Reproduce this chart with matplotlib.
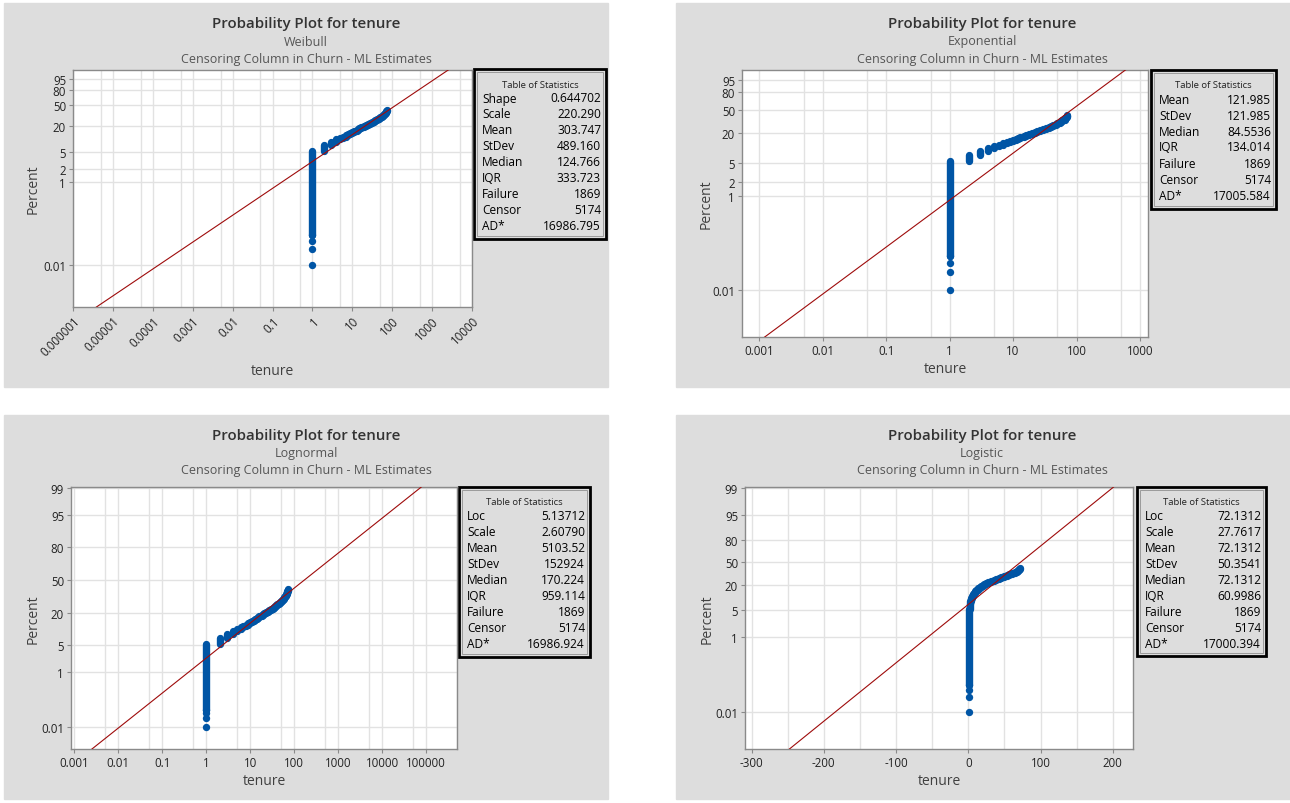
from statistics import NormalDist

import numpy as np
import matplotlib
matplotlib.use("Agg")
import matplotlib.pyplot as plt
from matplotlib.patches import Rectangle
from matplotlib.ticker import NullFormatter, NullLocator

plt.rcParams["font.family"] = ["Open Sans", "DejaVu Sans"]

W, H = 1290, 804

# ---------------------------------------------------------------------------
# Data (same plotting positions in all four panels)
# ---------------------------------------------------------------------------
tenure = list(range(1, 73))
# cumulative percent failed at the top of each tenure group
cum_pct = [5.40, 7.22, 8.63, 9.90, 10.89, 11.52, 12.33, 13.01, 13.76, 14.51,
           15.03, 15.68, 16.34, 16.76, 17.42, 17.93, 18.40, 18.85, 19.20, 19.55,
           19.89, 20.42, 20.68, 21.14, 21.62, 21.93, 22.21, 22.47, 22.79, 23.13,
           23.49, 23.95, 24.30, 24.58, 24.80, 25.04, 25.42, 25.75, 26.11, 26.42,
           26.82, 27.15, 27.54, 27.71, 27.85, 28.21, 28.60, 28.88, 29.32, 29.75,
           29.98, 30.22, 30.69, 31.13, 31.47, 31.82, 32.18, 32.65, 33.13, 33.49,
           33.87, 34.12, 34.32, 34.60, 35.13, 35.95, 36.90, 37.57, 38.24, 39.28,
           39.97, 40.96]
# separate dots at the bottom of the tenure = 1 column
first_pct = [0.01, 0.024, 0.038, 0.052]

# fitted parameters
weib_shape, weib_scale = 0.644702, 220.290
exp_mean = 121.985
logn_loc, logn_scale = 5.13712, 2.60790
logis_loc, logis_scale = 72.1312, 27.7617

weib_stats = [("Shape", "0.644702"), ("Scale", "220.290"), ("Mean", "303.747"),
              ("StDev", "489.160"), ("Median", "124.766"), ("IQR", "333.723"),
              ("Failure", "1869"), ("Censor", "5174"), ("AD*", "16986.795")]
exp_stats = [("Mean", "121.985"), ("StDev", "121.985"), ("Median", "84.5536"),
             ("IQR", "134.014"), ("Failure", "1869"), ("Censor", "5174"),
             ("AD*", "17005.584")]
logn_stats = [("Loc", "5.13712"), ("Scale", "2.60790"), ("Mean", "5103.52"),
              ("StDev", "152924"), ("Median", "170.224"), ("IQR", "959.114"),
              ("Failure", "1869"), ("Censor", "5174"), ("AD*", "16986.924")]
logis_stats = [("Loc", "72.1312"), ("Scale", "27.7617"), ("Mean", "72.1312"),
               ("StDev", "50.3541"), ("Median", "72.1312"), ("IQR", "60.9986"),
               ("Failure", "1869"), ("Censor", "5174"), ("AD*", "17000.394")]

yticks_a = [95, 80, 50, 20, 5, 2, 1, 0.01]
ylabels_a = ["95", "80", "50", "20", "5", "2", "1", "0.01"]
yticks_b = [99, 95, 80, 50, 20, 5, 1, 0.01]
ylabels_b = ["99", "95", "80", "50", "20", "5", "1", "0.01"]

weib_xticks = [1e-6, 1e-5, 1e-4, 1e-3, 1e-2, 0.1, 1, 10, 100, 1000, 10000]
weib_xlabels = ["0.000001", "0.00001", "0.0001", "0.001", "0.01", "0.1",
                "1", "10", "100", "1000", "10000"]
exp_xticks = [1e-3, 1e-2, 0.1, 1, 10, 100, 1000]
exp_xlabels = ["0.001", "0.01", "0.1", "1", "10", "100", "1000"]
logn_xticks = [1e-3, 1e-2, 0.1, 1, 10, 100, 1000, 1e4, 1e5]
logn_xlabels = ["0.001", "0.01", "0.1", "1", "10", "100", "1000", "10000", "100000"]
logis_xticks = [-300, -200, -100, 0, 100, 200]
logis_xlabels = ["-300", "-200", "-100", "0", "100", "200"]

# ---------------------------------------------------------------------------
# probability scales
# ---------------------------------------------------------------------------
_nd = NormalDist()
_ppf = np.vectorize(_nd.inv_cdf, otypes=[float])
_cdf = np.vectorize(_nd.cdf, otypes=[float])


def _frac(p):
    return np.clip(np.asarray(p, dtype=float) / 100.0, 1e-13, 1 - 1e-13)


def weib_fwd(p):
    return np.log(-np.log1p(-_frac(p)))


def weib_inv(y):
    return 100.0 * -np.expm1(-np.exp(np.asarray(y, dtype=float)))


def norm_fwd(p):
    return _ppf(_frac(p))


def norm_inv(z):
    return 100.0 * _cdf(np.asarray(z, dtype=float))


def logit_fwd(p):
    f = _frac(p)
    return np.log(f / (1 - f))


def logit_inv(y):
    return 100.0 / (1 + np.exp(-np.asarray(y, dtype=float)))


def weib_cdf(x):
    return 100.0 * -np.expm1(-(x / weib_scale) ** weib_shape)


def exp_cdf(x):
    return 100.0 * -np.expm1(-x / exp_mean)


def logn_cdf(x):
    return norm_inv((np.log(x) - logn_loc) / logn_scale)


def logis_cdf(x):
    return 100.0 / (1 + np.exp(-(x - logis_loc) / logis_scale))


BLUE = "#0055a5"
RED = "#9e0b0b"
BG = "#dddddd"
GRID = "#e2e2e2"
SPINE = "#8a8a8a"
TXT = "#222222"


def fx(x):
    return x / W


def fy(y):
    return 1 - y / H


def draw_panel(fig, lay, dist, scale, xscale, xlim, xticks, xlabels, xminor,
               ylim, yticks, ylabels, cdf, stats, rotate=False):
    bx0, by0, bx1, by1 = lay["bg"]
    fig.patches.append(Rectangle((fx(bx0), fy(by1)), fx(bx1 - bx0), (by1 - by0) / H,
                                 transform=fig.transFigure, color=BG, zorder=-5))
    cx, ty = lay["cx"], lay["ty"]
    fig.text(fx(cx), fy(ty), "Probability Plot for tenure", ha="center", va="center",
             fontsize=10.8, fontweight="semibold", color="#333333")
    fig.text(fx(cx), fy(ty + 18), dist, ha="center", va="center", fontsize=9, color="#555555")
    fig.text(fx(cx), fy(ty + 35), "Censoring Column in Churn - ML Estimates",
             ha="center", va="center", fontsize=9, color="#555555")

    ax0, ay0, ax1, ay1 = lay["ax"]
    ax = fig.add_axes([fx(ax0), fy(ay1), fx(ax1 - ax0), (ay1 - ay0) / H])
    ax.set_zorder(2)
    ax.set_facecolor("white")
    ax.set_yscale("function", functions=scale)
    ax.set_xscale(xscale)
    ax.set_xlim(*xlim)
    ax.set_ylim(*ylim)
    ax.set_yticks(yticks, ylabels)
    ax.yaxis.set_minor_locator(NullLocator())
    if rotate:
        ax.set_xticks(xticks, xlabels, rotation=45, ha="right", rotation_mode="anchor")
    else:
        ax.set_xticks(xticks, xlabels)
    ax.set_xticks(xminor, minor=True)
    ax.xaxis.set_minor_formatter(NullFormatter())
    ax.set_axisbelow(True)
    ax.grid(True, which="both", color=GRID, linewidth=1.0)
    for sp in ax.spines.values():
        sp.set_color(SPINE)
        sp.set_linewidth(1.0)
    ax.tick_params(which="major", length=3, width=0.8, color=SPINE, labelsize=8.3,
                   labelcolor=TXT, pad=2)
    ax.tick_params(which="minor", length=0)

    lo = [first_pct[-1]] + cum_pct[:-1]
    lc = ax.vlines(tenure, lo, cum_pct, colors=BLUE, linewidth=5.3, zorder=3)
    lc.set_capstyle("round")
    ax.plot([tenure[0]] * len(first_pct), first_pct, "o", color=BLUE, ms=5.3,
            mec="none", zorder=3)

    if xscale == "log":
        xs = np.geomspace(xlim[0], xlim[1], 400)
    else:
        xs = np.linspace(xlim[0], xlim[1], 400)
    ax.plot(xs, cdf(xs), color=RED, linewidth=0.8, zorder=4)

    fig.text(fx(lay["ylab_x"]), fy((ay0 + ay1) / 2), "Percent", rotation=90,
             ha="center", va="center", fontsize=10, fontweight="medium", color="#404040")
    fig.text(fx((ax0 + ax1) / 2), fy(lay["xlab_y"]), "tenure", ha="center",
             va="center", fontsize=10, fontweight="medium", color="#404040")

    tx0, ty0, tx1, ty1 = lay["table"]
    fig.patches.append(Rectangle((fx(tx0), fy(ty1)), fx(tx1 - tx0), (ty1 - ty0) / H,
                                 transform=fig.transFigure, facecolor=BG,
                                 edgecolor="black", linewidth=2.0, zorder=1))
    fig.patches.append(Rectangle((fx(tx0 + 3), fy(ty1 - 3)), fx(tx1 - tx0 - 6),
                                 (ty1 - ty0 - 6) / H, transform=fig.transFigure,
                                 facecolor="none", edgecolor="#9a9a9a", linewidth=0.7,
                                 zorder=1))
    fig.text(fx((tx0 + tx1) / 2), fy(ty0 + 15), "Table of Statistics", ha="center",
             va="center", fontsize=6.8, color="#222222")
    for i, (k, v) in enumerate(stats):
        yy = fy(ty0 + 29 + 16 * i)
        fig.text(fx(tx0 + 8), yy, k, ha="left", va="center", fontsize=8.6, color="black")
        fig.text(fx(tx1 - 5), yy, v, ha="right", va="center", fontsize=8.6, color="black")
    return ax


fig = plt.figure(figsize=(W / 100, H / 100), dpi=100)
fig.patch.set_facecolor("white")

lay_weib = dict(bg=(4, 4, 608, 388), ax=(73, 71, 472, 308), table=(474, 70, 606, 240),
                cx=306, ty=24, ylab_x=33, xlab_y=372)
lay_exp = dict(bg=(676, 4, 1290, 388), ax=(742, 71, 1148, 338), table=(1151, 71, 1276, 210),
               cx=982, ty=24, ylab_x=706, xlab_y=370)
lay_logn = dict(bg=(4, 416, 608, 800), ax=(71, 488, 457, 750), table=(459, 488, 590, 658),
                cx=306, ty=436, ylab_x=33, xlab_y=782)
lay_logis = dict(bg=(676, 416, 1290, 800), ax=(745, 488, 1133, 750), table=(1137, 488, 1266, 657),
                 cx=982, ty=436, ylab_x=707, xlab_y=782)

draw_panel(fig, lay_weib, "Weibull", (weib_fwd, weib_inv), "log", (1e-6, 1e4),
           weib_xticks, weib_xlabels, [5 * t for t in weib_xticks[:-1]],
           (0.001, 99.2), yticks_a, ylabels_a, weib_cdf, weib_stats, rotate=True)
draw_panel(fig, lay_exp, "Exponential", (weib_fwd, weib_inv), "log", (5.35e-4, 1337),
           exp_xticks, exp_xlabels, [5 * t for t in exp_xticks[:-1]],
           (0.001, 99.2), yticks_a, ylabels_a, exp_cdf, exp_stats)
draw_panel(fig, lay_logn, "Lognormal", (norm_fwd, norm_inv), "log", (8.4e-4, 2.3e5),
           logn_xticks, logn_xlabels, [5 * t for t in logn_xticks],
           (0.001, 99.05), yticks_b, ylabels_b, logn_cdf, logn_stats)
draw_panel(fig, lay_logis, "Logistic", (logit_fwd, logit_inv), "linear", (-309, 228),
           logis_xticks, logis_xlabels, [t + 50 for t in logis_xticks[:-1]],
           (0.001, 99.05), yticks_b, ylabels_b, logis_cdf, logis_stats)

fig.savefig("out.png", dpi=100)
